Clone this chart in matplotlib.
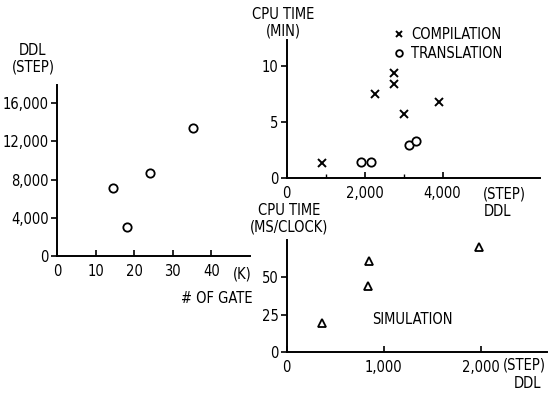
import matplotlib
matplotlib.use("Agg")
import matplotlib.pyplot as plt
from matplotlib.ticker import FixedLocator

# DDL size vs number of gates
gate_k = [14.5, 18.1, 24.0, 35.2]
ddl_steps = [7100, 3000, 8700, 13450]

# CPU time (min) vs DDL steps
comp_ddl = [900, 2260, 2740, 2740, 3000, 3920]
comp_min = [1.3, 7.5, 9.3, 8.4, 5.7, 6.8]
trans_ddl = [1900, 2150, 3150, 3310]
trans_min = [1.4, 1.4, 2.9, 3.3]

# CPU time (ms/clock) vs DDL steps
sim_ddl = [360, 840, 850, 1980]
sim_ms = [19, 44, 61, 70]

plt.rcParams['font.family'] = ['DejaVu Sans']
plt.rcParams['font.stretch'] = 'condensed'
plt.rcParams['font.size'] = 10
FS = 10.5

fig = plt.figure(figsize=(5.58, 3.98), dpi=100)


def style(ax):
    for s in ['top', 'right']:
        ax.spines[s].set_visible(False)
    for s in ['left', 'bottom']:
        ax.spines[s].set_linewidth(1.4)
        ax.spines[s].set_color('black')
    ax.tick_params(axis='x', direction='in', length=4, width=1.2, pad=6, labelsize=FS)
    ax.tick_params(axis='y', direction='out', length=4, width=1.2, pad=2, labelsize=FS)
    ax.tick_params(which='minor', axis='x', direction='in', length=3, width=1.0)


# left panel
ax1 = fig.add_axes([0.102, 0.357, 0.346, 0.429])
ax1.plot(gate_k, ddl_steps, 'o', mfc='white', mec='black', mew=1.3, ms=6)
ax1.set_xlim(0, 50)
ax1.set_ylim(0, 17900)
ax1.set_xticks([0, 10, 20, 30, 40])
ax1.set_yticks([0, 4000, 8000, 12000, 16000])
ax1.set_yticklabels(['0', '4,000', '8,000', '12,000', '16,000'])
style(ax1)
ax1.text(48, -1100, '(K)', ha='center', va='top', fontsize=FS)
ax1.text(41.5, -3700, '# OF GATE', ha='center', va='top', fontsize=FS)
ax1.text(-6.2, 19050, 'DDL\n(STEP)', ha='center', va='bottom', fontsize=FS, linespacing=1.1)

# top right panel
ax2 = fig.add_axes([0.514, 0.553, 0.453, 0.347])
ax2.plot(comp_ddl, comp_min, 'x', color='black', mew=1.4, ms=6, label='COMPILATION')
ax2.plot(trans_ddl, trans_min, 'o', mfc='white', mec='black', mew=1.3, ms=6, label='TRANSLATION')
ax2.set_xlim(0, 6490)
ax2.set_ylim(0, 12.3)
ax2.set_xticks([0, 2000, 4000])
ax2.set_xticklabels(['0', '2,000', '4,000'])
ax2.xaxis.set_minor_locator(FixedLocator([1000, 3000]))
ax2.set_yticks([0, 5, 10])
style(ax2)
ax2.legend(loc='upper left', bbox_to_anchor=(0.405, 1.135), frameon=False, fontsize=FS,
           handlelength=0.6, handletextpad=0.5, labelspacing=0.25, borderaxespad=0,
           markerscale=0.8)
ax2.text(5590, -0.75, '(STEP)', ha='center', va='top', fontsize=FS)
ax2.text(5400, -2.3, 'DDL', ha='center', va='top', fontsize=FS)
ax2.text(-100, 12.4, 'CPU TIME\n(MIN)', ha='center', va='bottom', fontsize=FS, linespacing=1.1)

# bottom right panel
ax3 = fig.add_axes([0.514, 0.116, 0.466, 0.281])
ax3.plot(sim_ddl, sim_ms, '^', mfc='white', mec='black', mew=1.3, ms=5.5)
ax3.set_xlim(0, 2680)
ax3.set_ylim(0, 75)
ax3.set_xticks([0, 1000, 2000])
ax3.set_xticklabels(['0', '1,000', '2,000'])
ax3.set_yticks([0, 25, 50])
style(ax3)
ax3.text(880, 22, 'SIMULATION', ha='left', va='center', fontsize=FS)
ax3.text(2450, -3.5, '(STEP)', ha='center', va='top', fontsize=FS)
ax3.text(2480, -16.5, 'DDL', ha='center', va='top', fontsize=FS)
ax3.text(20, 79, 'CPU TIME\n(MS/CLOCK)', ha='center', va='bottom', fontsize=FS, linespacing=1.1)

fig.savefig('out.png', dpi=100)
